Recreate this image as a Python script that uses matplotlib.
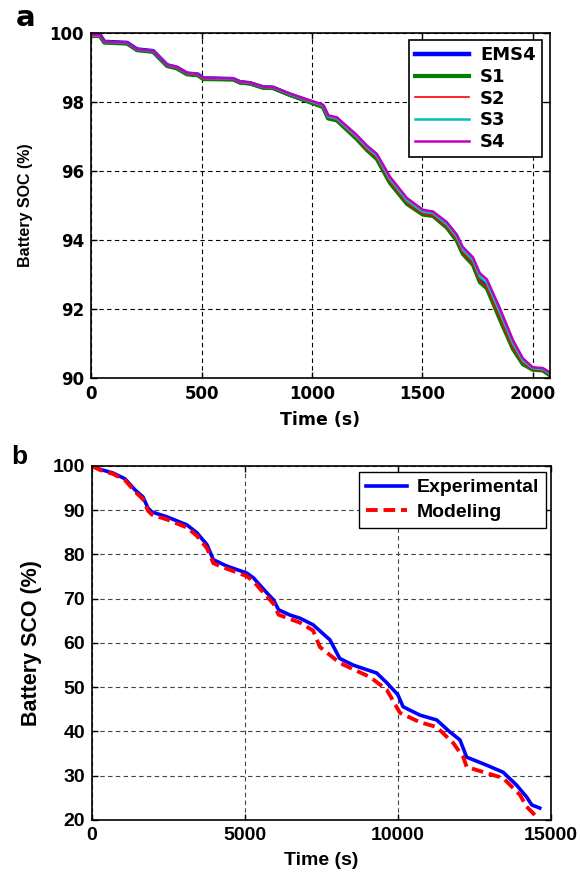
import matplotlib
matplotlib.use("Agg")
import matplotlib.pyplot as plt

plt.rcParams['font.family'] = ['Liberation Sans', 'DejaVu Sans']
plt.rcParams['font.weight'] = 'bold'

# panel a: SOC under the energy management strategies
t_a = [0, 40, 60, 163, 208, 281, 344, 389, 434, 484, 508, 643, 674, 720, 779, 824,
       900, 977, 1050, 1073, 1113, 1203, 1249, 1294, 1353, 1430, 1502, 1548, 1611,
       1656, 1683, 1729, 1760, 1792, 1851, 1910, 1955, 2000, 2045, 2077]
soc_ems4 = [99.94, 99.94, 99.75, 99.72, 99.53, 99.48, 99.07, 99.00, 98.83, 98.80, 98.69,
            98.67, 98.58, 98.55, 98.43, 98.42, 98.22, 98.05, 97.88, 97.56, 97.50, 96.97,
            96.65, 96.40, 95.72, 95.10, 94.78, 94.74, 94.40, 94.04, 93.66, 93.36, 92.86,
            92.68, 91.80, 90.92, 90.45, 90.26, 90.24, 90.10]
soc_s1 = [99.92, 99.92, 99.73, 99.70, 99.51, 99.46, 99.05, 98.98, 98.81, 98.78, 98.67,
          98.66, 98.57, 98.54, 98.42, 98.41, 98.21, 98.03, 97.86, 97.53, 97.47, 96.93,
          96.61, 96.35, 95.66, 95.05, 94.74, 94.70, 94.36, 93.98, 93.60, 93.28, 92.78,
          92.60, 91.70, 90.84, 90.40, 90.24, 90.22, 90.08]
soc_s2 = [99.90, 99.90, 99.74, 99.71, 99.52, 99.47, 99.06, 98.99, 98.82, 98.79, 98.68,
          98.66, 98.57, 98.54, 98.42, 98.41, 98.21, 98.04, 97.87, 97.55, 97.49, 96.95,
          96.63, 96.38, 95.69, 95.08, 94.76, 94.72, 94.38, 94.01, 93.63, 93.32, 92.82,
          92.64, 91.75, 90.88, 90.43, 90.25, 90.23, 90.09]
soc_s3 = [99.93, 99.93, 99.75, 99.72, 99.53, 99.48, 99.08, 99.01, 98.84, 98.81, 98.70,
          98.68, 98.59, 98.56, 98.44, 98.43, 98.23, 98.06, 97.90, 97.58, 97.52, 97.00,
          96.69, 96.44, 95.77, 95.15, 94.82, 94.78, 94.45, 94.09, 93.72, 93.42, 92.94,
          92.76, 91.90, 91.00, 90.50, 90.28, 90.26, 90.12]
soc_s4 = [99.95, 99.95, 99.76, 99.73, 99.54, 99.49, 99.09, 99.02, 98.85, 98.82, 98.71,
          98.69, 98.60, 98.57, 98.45, 98.44, 98.25, 98.08, 97.93, 97.62, 97.56, 97.05,
          96.74, 96.50, 95.84, 95.22, 94.88, 94.83, 94.52, 94.16, 93.80, 93.50, 93.04,
          92.86, 92.02, 91.10, 90.57, 90.31, 90.29, 90.16]

# panel b: experimental vs modeling
t_exp = [0, 261, 686, 1078, 1405, 1667, 1830, 1960, 2450, 3100, 3430, 3760, 3970, 4400,
         5060, 5280, 5720, 5940, 6100, 6480, 6800, 7230, 7780, 8100, 8540, 9310, 9640,
         10000, 10170, 10720, 11270, 11700, 12030, 12250, 12900, 13440, 13880, 14210,
         14380, 14640]
soc_exp = [100.0, 99.25, 98.4, 97.1, 94.6, 93.0, 90.5, 89.6, 88.5, 86.7, 84.9, 82.2, 78.8,
           77.4, 75.8, 74.7, 71.3, 69.7, 67.5, 66.3, 65.6, 64.1, 60.7, 56.5, 55.0, 53.2,
           51.0, 48.3, 45.6, 43.7, 42.6, 39.9, 38.1, 34.2, 32.4, 30.8, 27.9, 25.2, 23.4,
           22.7]
t_mod = [0, 261, 686, 1078, 1405, 1667, 1830, 1960, 2450, 3100, 3430, 3760, 3970, 4400,
         5060, 5280, 5720, 5940, 6100, 6480, 6800, 7230, 7450, 8100, 9090, 9640, 10070,
         10720, 11270, 11810, 12140, 12250, 12900, 13440, 13990, 14210, 14570]
soc_mod = [100.0, 99.1, 98.2, 96.8, 94.2, 92.5, 89.9, 89.0, 87.9, 86.1, 84.2, 81.4, 78.0,
           76.8, 75.1, 73.9, 70.5, 68.8, 66.4, 65.4, 64.6, 62.8, 59.1, 55.5, 52.3, 49.4,
           44.2, 42.1, 41.0, 37.4, 34.2, 32.0, 30.6, 29.5, 25.7, 23.0, 20.5]

wide = ['DejaVu Sans']  # top panel text looks horizontally wider

fig = plt.figure(figsize=(5.8, 8.84), dpi=100)

ax1 = fig.add_axes([0.157, 0.5724, 0.791, 0.390])
ax1.plot(t_a, soc_ems4, color='#0000ff', lw=3.2, label='EMS4')
ax1.plot(t_a, soc_s1, color='#008000', lw=3.0, label='S1')
ax1.plot(t_a, soc_s2, color='#ff0000', lw=1.2, label='S2')
ax1.plot(t_a, soc_s3, color='#00bfbf', lw=1.8, label='S3')
ax1.plot(t_a, soc_s4, color='#bf00bf', lw=1.8, label='S4')
ax1.set_xlim(0, 2077)
ax1.set_ylim(90, 100)
ax1.set_xticks([0, 500, 1000, 1500, 2000])
ax1.set_yticks([90, 92, 94, 96, 98, 100])
ax1.set_xlabel('Time (s)', fontsize=12.5, fontweight='bold', family=wide, labelpad=6)
ax1.set_ylabel('Battery SOC (%)', fontsize=11.5, fontweight='bold', labelpad=12)
leg1 = ax1.legend(loc='upper right', fancybox=False, edgecolor='black',
                  framealpha=1, handlelength=3.0, borderpad=0.35, labelspacing=0.2,
                  handletextpad=0.6, borderaxespad=0, bbox_to_anchor=(0.983, 0.98),
                  prop={'family': wide, 'weight': 'bold', 'size': 13})
leg1.get_frame().set_linewidth(1.2)
ax1.text(-0.165, 1.02, 'a', transform=ax1.transAxes, fontsize=21, fontweight='bold',
         family=wide)

ax2 = fig.add_axes([0.1586, 0.0724, 0.791, 0.4005])
ax2.plot(t_exp, soc_exp, color='#0000ff', lw=2.6, label='Experimental')
ax2.plot(t_mod, soc_mod, color='#ff0000', lw=2.8, ls=(0, (3, 1.5)), label='Modeling')
ax2.set_xlim(0, 15000)
ax2.set_ylim(20, 100)
ax2.set_xticks([0, 5000, 10000, 15000])
ax2.set_yticks([20, 30, 40, 50, 60, 70, 80, 90, 100])
ax2.set_xlabel('Time (s)', fontsize=14, fontweight='bold', labelpad=6)
ax2.set_ylabel('Battery SCO (%)', fontsize=15.5, fontweight='bold', labelpad=8)
leg2 = ax2.legend(loc='upper right', fancybox=False, edgecolor='black',
                  framealpha=1, handlelength=2.1, borderpad=0.35, labelspacing=0.35,
                  handletextpad=0.5, borderaxespad=0, bbox_to_anchor=(0.989, 0.983),
                  prop={'weight': 'bold', 'size': 14})
leg2.get_frame().set_linewidth(1.0)
ax2.text(-0.175, 1.005, 'b', transform=ax2.transAxes, fontsize=19, fontweight='bold')

for ax, gcol, fsz, fam in ((ax1, 'black', 12, wide),
                           (ax2, '#444444', 14, ['Liberation Sans'])):
    ax.grid(True, color=gcol, ls=(0, (4, 3)), lw=0.8)
    ax.tick_params(direction='in', top=True, right=True, length=4, width=1,
                   labelsize=fsz, pad=5)
    for lab in ax.get_xticklabels() + ax.get_yticklabels():
        lab.set_fontweight('bold')
        lab.set_family(fam)
    for sp in ax.spines.values():
        sp.set_linewidth(1.2)

fig.savefig('out.png', dpi=100)
